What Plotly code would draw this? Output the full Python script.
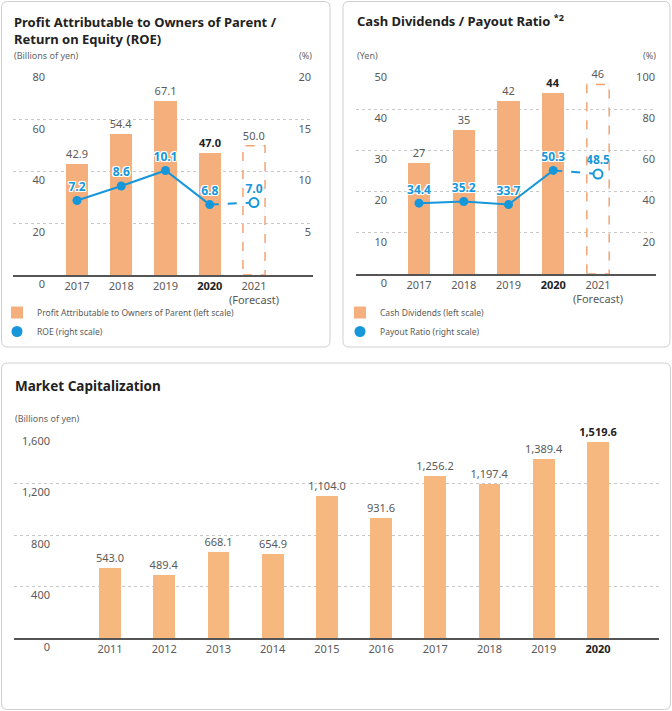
import plotly.graph_objects as go

W, H = 672, 711

# ---- data ----
years_top = ["2017", "2018", "2019", "2020", "2021"]
profit = [42.9, 54.4, 67.1, 47.0]
profit_fc = 50.0
roe = [7.2, 8.6, 10.1, 6.8]
roe_fc = 7.0

dividends = [27, 35, 42, 44]
dividends_fc = 46
payout = [34.4, 35.2, 33.7, 50.3]
payout_fc = 48.5

years_mc = ["2011", "2012", "2013", "2014", "2015", "2016", "2017", "2018", "2019", "2020"]
market_cap = [543.0, 489.4, 668.1, 654.9, 1104.0, 931.6, 1256.2, 1197.4, 1389.4, 1519.6]

ORANGE = "#F4AF7D"
ORANGE_MC = "#F7B880"
DASH_ORANGE = "#F5A572"
BLUE = "#1597DA"
GRAY = "#5a5a5a"
DARK = "#222222"
FONT = "Noto Sans"


def px(x):
    return x / W


def py(y):
    return 1 - y / H


def year_ticks(years, forecast=True):
    out = []
    for i, y in enumerate(years):
        if forecast and i == len(years) - 1:
            out.append(y + "<br>(Forecast)")
        elif (forecast and i == len(years) - 2) or (not forecast and i == len(years) - 1):
            out.append("<b><span style='color:%s'>%s</span></b>" % (DARK, y))
        else:
            out.append(y)
    return out


def bar_labels(vals, fmt):
    labels = [fmt.format(v) for v in vals]
    labels[-1] = "<b>" + labels[-1] + "</b>"
    colors = [GRAY] * (len(vals) - 1) + [DARK]
    return labels, colors


fig = go.Figure()

shadow = "1px 1px 0 #fff, -1px -1px 0 #fff, 1px -1px 0 #fff, -1px 1px 0 #fff, 0 1px 0 #fff, 0 -1px 0 #fff, 1px 0 0 #fff, -1px 0 0 #fff"


def add_top_panel(xa, ya, ya2, legend, bars, bar_fc, line, line_fc, bar_fmt, line_fmt,
                  bar_name, line_name):
    idx = list(range(len(bars)))
    labels, colors = bar_labels(bars, bar_fmt)
    fig.add_trace(go.Bar(
        x=idx, y=bars, xaxis=xa, yaxis=ya, width=0.5,
        marker=dict(color=ORANGE, line=dict(width=0)),
        text=labels, textposition="outside", cliponaxis=False, constraintext="none",
        textfont=dict(size=11, color=colors, family=FONT),
        name=bar_name, legend=legend, hoverinfo="skip"))
    fig.add_trace(go.Bar(
        x=[len(bars)], y=[bar_fc], xaxis=xa, yaxis=ya, width=0.5,
        marker=dict(color="rgba(0,0,0,0)"),
        text=[bar_fmt.format(bar_fc)], textposition="outside", cliponaxis=False,
        constraintext="none", textfont=dict(size=11, color=GRAY, family=FONT),
        showlegend=False, hoverinfo="skip"))
    fig.add_shape(type="rect", xref=xa, yref=ya,
                  x0=len(bars) - 0.25, x1=len(bars) + 0.25, y0=0, y1=bar_fc,
                  line=dict(color=DASH_ORANGE, width=1.5, dash="dash"))
    fig.add_trace(go.Scatter(
        x=[len(line) - 1, len(line)], y=[line[-1], line_fc], xaxis=xa, yaxis=ya2,
        mode="lines", line=dict(color=BLUE, width=2, dash="dash"),
        showlegend=False, hoverinfo="skip"))
    fig.add_trace(go.Scatter(
        x=idx, y=line, xaxis=xa, yaxis=ya2, mode="lines+markers",
        line=dict(color=BLUE, width=2), marker=dict(size=9, color=BLUE),
        showlegend=False, hoverinfo="skip"))
    fig.add_trace(go.Scatter(
        x=[len(line)], y=[line_fc], xaxis=xa, yaxis=ya2, mode="markers",
        marker=dict(size=9, color="white", line=dict(color=BLUE, width=2)),
        showlegend=False, hoverinfo="skip"))
    fig.add_trace(go.Scatter(
        x=idx + [len(line)], y=line + [line_fc], xaxis=xa, yaxis=ya2,
        mode="markers+text", marker=dict(size=9, color="rgba(0,0,0,0)"),
        text=[line_fmt.format(v) for v in line + [line_fc]],
        textposition="top center", cliponaxis=False,
        textfont=dict(size=12, color=BLUE, family=FONT, weight="bold", shadow=shadow),
        showlegend=False, hoverinfo="skip"))
    fig.add_trace(go.Scatter(
        x=[None], y=[None], xaxis=xa, yaxis=ya2, mode="markers",
        marker=dict(size=11, color=BLUE), name=line_name, legend=legend))


add_top_panel("x", "y", "y2", "legend", profit, profit_fc, roe, roe_fc, "{:.1f}", "{:.1f}",
              "Profit Attributable to Owners of Parent (left scale)", "ROE (right scale)")
add_top_panel("x2", "y3", "y4", "legend2", dividends, dividends_fc, payout, payout_fc, "{:d}", "{:.1f}",
              "Cash Dividends (left scale)", "Payout Ratio (right scale)")

mc_labels, mc_colors = bar_labels(market_cap, "{:,.1f}")
fig.add_trace(go.Bar(
    x=list(range(len(market_cap))), y=market_cap, xaxis="x3", yaxis="y5", width=0.4,
    marker=dict(color=ORANGE_MC, line=dict(width=0)),
    text=mc_labels, textposition="outside", cliponaxis=False, constraintext="none",
    textfont=dict(size=11, color=mc_colors, family=FONT),
    showlegend=False, hoverinfo="skip"))

tickfont = dict(size=11, color=GRAY, family=FONT)
grid = dict(showgrid=True, gridcolor="#c8c8c8", griddash="dot", gridwidth=1)
SHIFT = 9


def xaxis(x0, x1, c0, unit, n, anchor, years, forecast=True):
    return dict(domain=[px(x0), px(x1)], range=[(x0 - c0) / unit, (x1 - c0) / unit],
                anchor=anchor, tickvals=list(range(n)), ticktext=year_ticks(years, forecast),
                showgrid=False, zeroline=False, showline=True, linecolor="#555555",
                linewidth=1.5, tickfont=tickfont, ticks="")


legend_style = dict(xanchor="left", yanchor="top", bgcolor="rgba(0,0,0,0)",
                    font=dict(size=8.5, color=GRAY, family=FONT), itemwidth=30, tracegroupgap=0)

fig.update_layout(
    width=W, height=H, margin=dict(l=0, r=0, t=0, b=0, autoexpand=False),
    paper_bgcolor="white", plot_bgcolor="rgba(0,0,0,0)",
    font=dict(family=FONT, color=GRAY), bargap=0,
    xaxis=xaxis(13, 313, 77, 44.25, 5, "y", years_top),
    yaxis=dict(domain=[py(275), py(68)], range=[0, 80], dtick=20, anchor="free",
               position=px(45), zeroline=False, ticklabelshift=SHIFT, tickfont=tickfont, **grid),
    yaxis2=dict(domain=[py(275), py(68)], range=[0, 20], dtick=5, overlaying="y", side="right",
                anchor="free", position=px(314), ticklabelposition="inside", showgrid=False,
                zeroline=False, ticklabelshift=SHIFT, tickfont=tickfont),
    xaxis2=xaxis(356, 656, 419, 44.75, 5, "y3", years_top),
    yaxis3=dict(domain=[py(274), py(68)], range=[0, 50], dtick=10, anchor="free",
                position=px(387), zeroline=False, ticklabelshift=SHIFT, tickfont=tickfont, **grid),
    yaxis4=dict(domain=[py(274), py(68)], range=[0, 100], dtick=20, overlaying="y3", side="right",
                anchor="free", position=px(658), ticklabelposition="inside", showgrid=False,
                zeroline=False, ticklabelshift=SHIFT, tickfont=tickfont),
    xaxis3=xaxis(14, 659, 110, 54.22, 10, "y5", years_mc, forecast=False),
    yaxis5=dict(domain=[py(638), py(432)], range=[0, 1600], dtick=400, tickformat=",",
                anchor="free", position=px(50), zeroline=False, ticklabelshift=SHIFT,
                tickfont=tickfont, **grid),
    legend=dict(x=px(-3), y=py(298), **legend_style),
    legend2=dict(x=px(340), y=py(298), **legend_style),
)
fig.update_xaxes(fixedrange=True, automargin=False)
fig.update_yaxes(fixedrange=True, automargin=False, showline=False, ticks="")


def rounded_box(x0, y0, x1, y1, r=6):
    a0, a1 = px(x0), px(x1)
    b0, b1 = py(y0), py(y1)
    rx, ry = r / W, r / H
    path = (f"M{a0 + rx},{b0} L{a1 - rx},{b0} Q{a1},{b0} {a1},{b0 - ry} "
            f"L{a1},{b1 + ry} Q{a1},{b1} {a1 - rx},{b1} L{a0 + rx},{b1} "
            f"Q{a0},{b1} {a0},{b1 + ry} L{a0},{b0 - ry} Q{a0},{b0} {a0 + rx},{b0} Z")
    fig.add_shape(type="path", xref="paper", yref="paper", path=path,
                  line=dict(color="#cfcfcf", width=1), layer="below")


rounded_box(1.5, 1.5, 330, 347)
rounded_box(343, 1.5, 670, 347)
rounded_box(1.5, 363, 670.5, 709.5)


def note(text, x, y, size, color, xanchor="left", bold=False):
    fig.add_annotation(text=("<b>%s</b>" % text) if bold else text, x=px(x), y=py(y),
                       xref="paper", yref="paper", xanchor=xanchor, yanchor="middle",
                       showarrow=False, align="left",
                       font=dict(size=size, color=color, family=FONT))


note("Profit Attributable to Owners of Parent /<br>Return on Equity (ROE)", 12, 30, 13, DARK, bold=True)
note("(Billions of yen)", 12, 56, 9, "#666666")
note("(%)", 314, 56, 9, "#666666", xanchor="right")
note("Cash Dividends / Payout Ratio <sup>*2</sup>", 355, 21, 13, DARK, bold=True)
note("(Yen)", 355, 56, 9, "#666666")
note("(%)", 658, 56, 9, "#666666", xanchor="right")
note("Market Capitalization", 13, 386, 13.5, DARK, bold=True)
note("(Billions of yen)", 13, 419, 9, "#666666")

# drop the browser's default 8px page margin so the figure sits at the window's corner
fig.write_html("out.html", config={"displayModeBar": False},
               post_script="document.body.style.margin='0';")
